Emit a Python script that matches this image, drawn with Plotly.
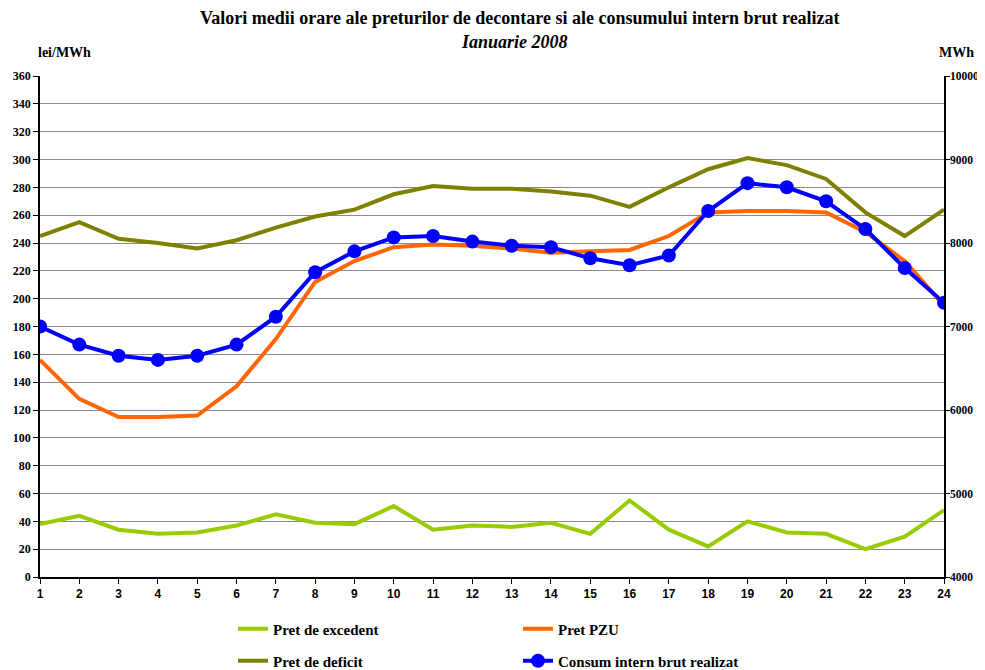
import plotly.graph_objects as go

hours = list(range(1, 25))
pret_excedent = [38, 44, 34, 31, 32, 37, 45, 39, 38, 51, 34, 37, 36, 39, 31, 55, 34, 22, 40, 32, 31, 20, 29, 48]
pret_pzu = [156, 128, 115, 115, 116, 137, 171, 212, 227, 237, 239, 238, 236, 233, 234, 235, 245, 262, 263, 263, 262, 248, 227, 195]
pret_deficit = [245, 255, 243, 240, 236, 242, 251, 259, 264, 275, 281, 279, 279, 277, 274, 266, 280, 293, 301, 296, 286, 262, 245, 264]
consum = [7000, 6783, 6650, 6600, 6650, 6783, 7117, 7650, 7900, 8067, 8083, 8017, 7967, 7950, 7817, 7733, 7850, 8383, 8717, 8667, 8500, 8167, 7700, 7283]

OFF = 8  # page body margin offset
W, H = 985 - OFF, 670 - OFF
L, R, T, B = 40 - OFF, 944 - OFF, 76 - OFF, 577 - OFF
SERIF = "Liberation Serif, Times New Roman, serif"
SANS = "Liberation Sans, Arial, sans-serif"

def px_x(x):
    return (x - OFF - L) / (R - L)

def px_y(y):
    return (B - (y - OFF)) / (B - T)

fig = go.Figure()
fig.add_trace(go.Scatter(x=hours, y=pret_excedent, name="Pret de excedent", mode="lines",
                         line=dict(color="#99CC00", width=4), legend="legend"))
fig.add_trace(go.Scatter(x=hours, y=pret_pzu, name="Pret PZU", mode="lines",
                         line=dict(color="#FF6600", width=4), legend="legend2"))
fig.add_trace(go.Scatter(x=hours, y=pret_deficit, name="Pret de deficit", mode="lines",
                         line=dict(color="#808000", width=4), legend="legend3"))
fig.add_trace(go.Scatter(x=hours, y=consum, name="Consum intern brut realizat", mode="lines+markers",
                         line=dict(color="#0000FF", width=4), marker=dict(color="#0000FF", size=14),
                         yaxis="y2", legend="legend4"))

legfont = dict(family=SERIF, size=15, color="black", weight="bold")

def leg(x, y):
    return dict(x=(x - OFF) / W, y=1 - (y - OFF) / H, xref="container", yref="container",
                xanchor="left", yanchor="middle", font=legfont, bgcolor="rgba(0,0,0,0)")

def ann(text, x, y, size, anchor="center"):
    return dict(text=text, x=px_x(x), y=px_y(y), xref="paper", yref="paper", showarrow=False,
                xanchor=anchor, yanchor="middle",
                font=dict(family=SERIF, size=size, color="black", weight="bold"))

fig.update_layout(
    width=W, height=H,
    margin=dict(l=L, r=W - R, t=T, b=H - B, autoexpand=False),
    paper_bgcolor="white", plot_bgcolor="white",
    showlegend=True,
    legend=leg(233, 629),
    legend2=leg(518, 629),
    legend3=leg(233, 661),
    legend4=leg(518, 661),
    xaxis=dict(range=[1, 24], tickmode="array", tickvals=hours, ticktext=[str(h) for h in hours],
               showgrid=False, zeroline=False, showline=True, linecolor="black", linewidth=1.5,
               ticks="outside", ticklen=5, tickcolor="black", automargin=False,
               tickfont=dict(family=SANS, size=12, color="black", weight="bold")),
    yaxis=dict(range=[0, 360], dtick=20, showgrid=True, gridcolor="#8a8a8a", gridwidth=1,
               zeroline=False, showline=True, linecolor="black", linewidth=1.5,
               ticks="outside", ticklen=5, tickcolor="black", automargin=False,
               tickfont=dict(family=SERIF, size=12, color="black", weight="bold")),
    yaxis2=dict(range=[4000, 10000], dtick=1000, tickformat="d", overlaying="y", side="right", showgrid=False,
                zeroline=False, showline=True, linecolor="black", linewidth=1.5,
                ticks="outside", ticklen=4, tickcolor="black", automargin=False,
                ticklabelstandoff=-2,
                tickfont=dict(family=SERIF, size=11.5, color="black", weight="bold")),
    annotations=[
        ann("Valori medii orare ale preturilor de decontare si ale consumului intern brut realizat", 520, 18, 18),
        ann("<i>Ianuarie 2008</i>", 514, 42, 18),
        ann("lei/MWh", 36, 53, 14, "left"),
        ann("MWh", 976, 53, 14, "right"),
    ],
)

fig.write_html("out.html")
